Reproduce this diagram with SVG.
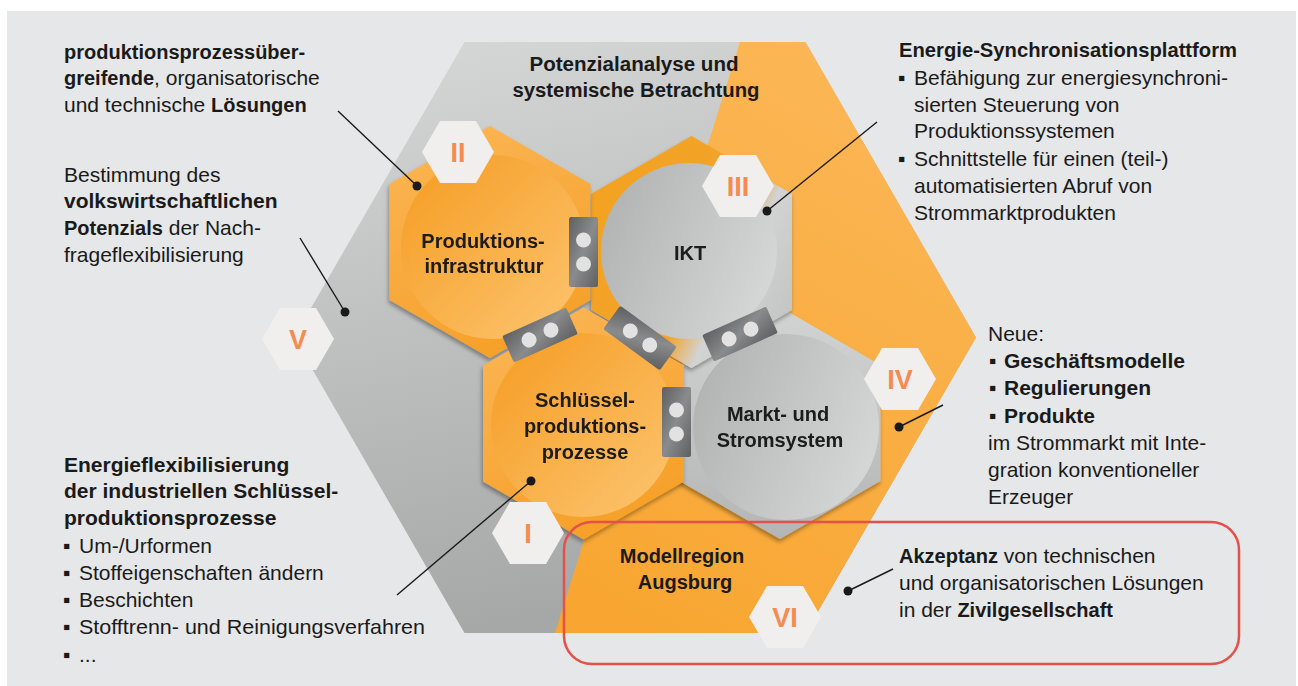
<svg xmlns="http://www.w3.org/2000/svg" xmlns:xlink="http://www.w3.org/1999/xlink" width="1298" height="686" viewBox="0 0 1298 686">
<defs>
<style>
text{font-family:"Liberation Sans",Arial,sans-serif;fill:#1a1a1a}
.t{font-size:21px}
.b{font-weight:bold}
.lbl{font-size:20px;font-weight:bold;text-anchor:middle}
.num{font-size:27px;font-weight:bold;fill:#f58b50;text-anchor:middle}
.nh{fill:#f0efed}
.lead{stroke:#1a1a1a;stroke-width:1.4;fill:none}
.dot{fill:#1a1a1a}
.chip{fill:url(#gChip)}
.cd{fill:#e2e2e2}
</style>
<linearGradient id="gGrey" x1="0" y1="0" x2="0.25" y2="1">
<stop offset="0" stop-color="#d7d8d8"/><stop offset="1" stop-color="#a6a7a7"/>
</linearGradient>
<linearGradient id="gOrange" x1="0.6" y1="0" x2="0.2" y2="1">
<stop offset="0" stop-color="#fbb655"/><stop offset="1" stop-color="#f8a631"/>
</linearGradient>
<linearGradient id="gOrHex" x1="0" y1="0" x2="0.4" y2="1">
<stop offset="0" stop-color="#fbb757"/><stop offset="1" stop-color="#f6a12b"/>
</linearGradient>
<linearGradient id="gOrCirc" x1="0.1" y1="0.1" x2="0.9" y2="0.9">
<stop offset="0" stop-color="#f6a029"/><stop offset="1" stop-color="#fcc16a"/>
</linearGradient>
<linearGradient id="gIKTHex" gradientUnits="userSpaceOnUse" x1="600" y1="200" x2="800" y2="300">
<stop offset="0" stop-color="#f3a222"/><stop offset="0.55" stop-color="#f2a42c"/><stop offset="0.7" stop-color="#d2d3d3"/><stop offset="1" stop-color="#c3c4c4"/>
</linearGradient>
<linearGradient id="gGreyCirc" x1="0" y1="0.3" x2="1" y2="0.7">
<stop offset="0" stop-color="#b2b3b3"/><stop offset="1" stop-color="#d6d7d7"/>
</linearGradient>
<linearGradient id="gMHex" x1="0" y1="0" x2="0" y2="1">
<stop offset="0" stop-color="#d2d3d3"/><stop offset="1" stop-color="#b4b5b5"/>
</linearGradient>
<linearGradient id="gChip" x1="0" y1="0" x2="1" y2="1">
<stop offset="0" stop-color="#5e5f61"/><stop offset="0.5" stop-color="#8a8b8c"/><stop offset="1" stop-color="#5e5f61"/>
</linearGradient>
<filter id="sh" x="-20%" y="-20%" width="140%" height="140%">
<feDropShadow dx="-1" dy="3" stdDeviation="2" flood-color="#000" flood-opacity="0.35"/>
</filter>
<path id="nhex" d="M-36,0 L-18,-31 L18,-31 L36,0 L18,31 L-18,31 Z"/>
</defs>

<rect x="0" y="0" width="1298" height="686" fill="#ffffff"/>
<rect x="7" y="11" width="1289" height="675" fill="#e6e7e8"/>

<g id="big-hexagon">
<polygon points="294,337.5 464.5,42 805.5,42 976,337.5 805.5,633 464.5,633" fill="url(#gGrey)"/>
<polygon points="740,42 805.5,42 976,337.5 805.5,633 555,633" fill="url(#gOrange)"/>
<text class="lbl" x="634" y="71" textLength="209" lengthAdjust="spacingAndGlyphs">Potenzialanalyse und</text>
<text class="lbl" x="636" y="97" textLength="247" lengthAdjust="spacingAndGlyphs">systemische Betrachtung</text>
<text class="lbl" x="682" y="563">Modellregion</text>
<text class="lbl" x="685" y="589">Augsburg</text>
</g>

<g id="node-markt" filter="url(#sh)">
<polygon points="780,307 880.5,365 880.5,481 780,539 679.5,481 679.5,365" fill="url(#gMHex)"/>
<circle cx="786" cy="427" r="93" fill="url(#gGreyCirc)"/>
<text class="lbl" x="778" y="421">Markt- und</text>
<text class="lbl" x="780" y="447">Stromsystem</text>
</g>

<g id="node-ikt" filter="url(#sh)">
<polygon points="691.5,136 792,194 792,310 691.5,368 591,310 591,194" fill="url(#gIKTHex)"/>
<circle cx="689" cy="251" r="88" fill="url(#gGreyCirc)"/>
<text class="lbl" x="690" y="260">IKT</text>
</g>

<g id="node-produktion" filter="url(#sh)">
<polygon points="490,126 590.5,184 590.5,300 490,358 389.5,300 389.5,184" fill="url(#gOrHex)"/>
<circle cx="493" cy="247" r="92" fill="url(#gOrCirc)"/>
<text class="lbl" x="483" y="248">Produktions-</text>
<text class="lbl" x="484" y="273">infrastruktur</text>
</g>

<g id="node-schluessel" filter="url(#sh)">
<polygon points="583.5,307.5 684,365.5 684,481.5 583.5,539.5 483,481.5 483,365.5" fill="url(#gOrHex)"/>
<circle cx="583" cy="425" r="92" fill="url(#gOrCirc)"/>
<text class="lbl" x="585" y="407">Schlüssel-</text>
<text class="lbl" x="585" y="433">produktions-</text>
<text class="lbl" x="585" y="459">prozesse</text>
</g>

<g id="connectors">
<g transform="translate(583.5,252)">
<rect class="chip" x="-14.5" y="-35" width="29" height="70" rx="2"/>
<circle class="cd" cx="0" cy="-12" r="7.5"/><circle class="cd" cx="0" cy="12" r="7.5"/>
</g>
<g transform="translate(676.5,422)">
<rect class="chip" x="-14.5" y="-35" width="29" height="70" rx="2"/>
<circle class="cd" cx="0" cy="-12" r="7.5"/><circle class="cd" cx="0" cy="12" r="7.5"/>
</g>
<g transform="translate(540,335) rotate(-24)">
<rect class="chip" x="-35" y="-14.5" width="70" height="29" rx="2"/>
<circle class="cd" cx="-12" cy="0" r="7.5"/><circle class="cd" cx="12" cy="0" r="7.5"/>
</g>
<g transform="translate(640,338) rotate(36)">
<rect class="chip" x="-35" y="-14.5" width="70" height="29" rx="2"/>
<circle class="cd" cx="-12" cy="0" r="7.5"/><circle class="cd" cx="12" cy="0" r="7.5"/>
</g>
<g transform="translate(740,334) rotate(-24)">
<rect class="chip" x="-35" y="-14.5" width="70" height="29" rx="2"/>
<circle class="cd" cx="-12" cy="0" r="7.5"/><circle class="cd" cx="12" cy="0" r="7.5"/>
</g>
</g>

<g id="numerals">
<g id="num-I"><use href="#nhex" class="nh" x="528" y="533"/><text class="num" x="528" y="543">I</text></g>
<g id="num-II"><use href="#nhex" class="nh" x="458" y="152"/><text class="num" x="458" y="162">II</text></g>
<g id="num-III"><use href="#nhex" class="nh" x="738" y="186"/><text class="num" x="738" y="196">III</text></g>
<g id="num-IV"><use href="#nhex" class="nh" x="900" y="379"/><text class="num" x="900" y="389">IV</text></g>
<g id="num-V"><use href="#nhex" class="nh" x="298" y="339"/><text class="num" x="298" y="349">V</text></g>
<g id="num-VI"><use href="#nhex" class="nh" x="785" y="617"/><text class="num" x="785" y="627">VI</text></g>
</g>

<g id="callout-lines">
<line class="lead" x1="338" y1="111" x2="417" y2="186"/><circle class="dot" cx="417" cy="186" r="4.5"/>
<line class="lead" x1="300" y1="238" x2="345" y2="312"/><circle class="dot" cx="345" cy="312" r="4.5"/>
<line class="lead" x1="877" y1="122" x2="767" y2="211"/><circle class="dot" cx="767" cy="211" r="4.5"/>
<line class="lead" x1="943" y1="405" x2="899" y2="427"/><circle class="dot" cx="899" cy="427" r="4.5"/>
<line class="lead" x1="893" y1="569" x2="848" y2="591"/><circle class="dot" cx="848" cy="591" r="4.5"/>
<line class="lead" x1="397" y1="595" x2="531" y2="481"/><circle class="dot" cx="531" cy="481" r="4.5"/>
</g>

<rect id="highlight-box" x="564" y="522" width="675" height="142" rx="28" fill="none" stroke="#e4504a" stroke-width="2.5"/>

<g id="text-left-top">
<text class="t" x="64" y="59"><tspan class="b" font-size="20">produktionsprozessüber-</tspan></text>
<text class="t" x="64" y="85"><tspan class="b" font-size="20">greifende</tspan>, organisatorische</text>
<text class="t" x="64" y="112">und technische <tspan class="b" font-size="20">Lösungen</tspan></text>
</g>

<g id="text-left-mid">
<text class="t" x="64" y="182">Bestimmung des</text>
<text class="t b" x="64" y="208" font-size="20">volkswirtschaftlichen</text>
<text class="t" x="64" y="235"><tspan class="b" font-size="20">Potenzials</tspan> der Nach-</text>
<text class="t" x="64" y="262">frageflexibilisierung</text>
</g>

<g id="text-left-bottom">
<text class="t b" x="64" y="472" font-size="20">Energieflexibilisierung</text>
<text class="t b" x="64" y="498" font-size="20">der industriellen Schlüssel-</text>
<text class="t b" x="64" y="525" font-size="20">produktionsprozesse</text>
<text class="t" x="63" y="553">▪</text><text class="t" x="79" y="553">Um-/Urformen</text>
<text class="t" x="63" y="580">▪</text><text class="t" x="79" y="580">Stoffeigenschaften ändern</text>
<text class="t" x="63" y="607">▪</text><text class="t" x="79" y="607">Beschichten</text>
<text class="t" x="63" y="634">▪</text><text class="t" x="79" y="634" textLength="346" lengthAdjust="spacingAndGlyphs">Stofftrenn- und Reinigungsverfahren</text>
<text class="t" x="63" y="662">▪</text><text class="t" x="79" y="662">...</text>
</g>

<g id="text-right-top">
<text class="t b" x="899" y="57" font-size="20" textLength="338" lengthAdjust="spacingAndGlyphs">Energie-Synchronisationsplattform</text>
<text class="t" x="898" y="85">▪</text><text class="t" x="914" y="85">Befähigung zur energiesynchroni-</text>
<text class="t" x="914" y="112">sierten Steuerung von</text>
<text class="t" x="914" y="138">Produktionssystemen</text>
<text class="t" x="898" y="166">▪</text><text class="t" x="914" y="166">Schnittstelle für einen (teil-)</text>
<text class="t" x="914" y="193">automatisierten Abruf von</text>
<text class="t" x="914" y="220">Strommarktprodukten</text>
</g>

<g id="text-right-mid">
<text class="t" x="988" y="341">Neue:</text>
<text class="t" x="989" y="368">▪</text><text class="t b" x="1004" y="368" font-size="20">Geschäftsmodelle</text>
<text class="t" x="989" y="395">▪</text><text class="t b" x="1004" y="395" font-size="20">Regulierungen</text>
<text class="t" x="989" y="423">▪</text><text class="t b" x="1004" y="423" font-size="20">Produkte</text>
<text class="t" x="988" y="450">im Strommarkt mit Inte-</text>
<text class="t" x="988" y="477">gration konventioneller</text>
<text class="t" x="988" y="504">Erzeuger</text>
</g>

<g id="text-right-bottom">
<text class="t" x="899" y="563"><tspan class="b" font-size="20">Akzeptanz</tspan> von technischen</text>
<text class="t" x="899" y="590">und organisatorischen Lösungen</text>
<text class="t" x="899" y="617">in der <tspan class="b" font-size="20">Zivilgesellschaft</tspan></text>
</g>
</svg>
